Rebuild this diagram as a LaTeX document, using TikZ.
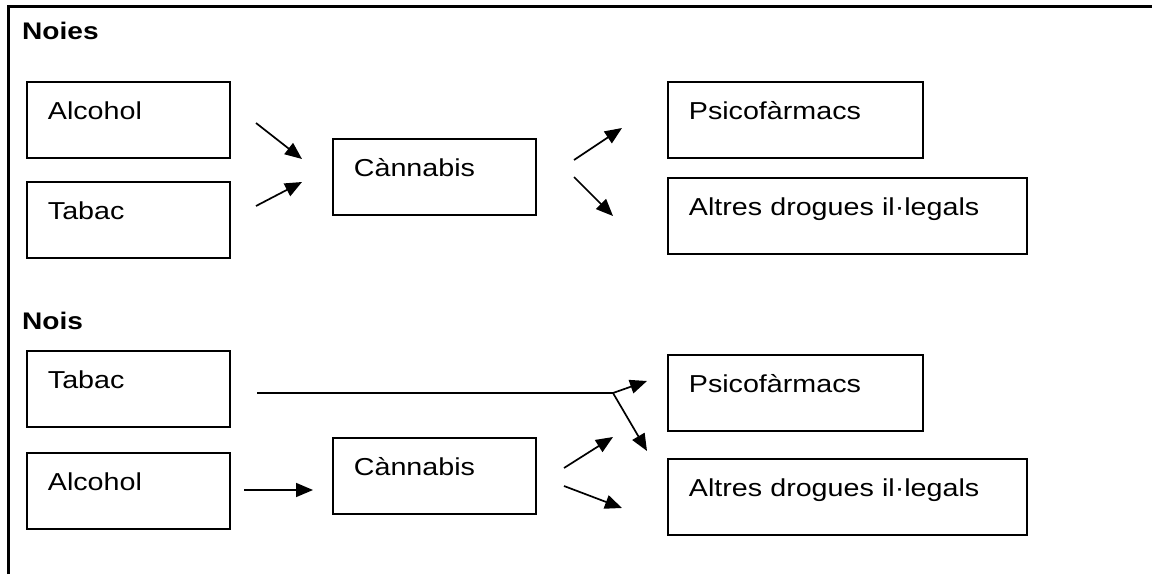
\documentclass[tikz,border=0pt]{standalone}
\usepackage{fontspec}
\setmainfont{Liberation Sans}[FakeStretch=1.17]
\usetikzlibrary{arrows.meta}

\tikzset{
	box/.style={draw, line width=1.8pt, anchor=north west, align=left,
		inner xsep=21pt, inner ysep=0pt, text height=38pt, text depth=38pt,
		font=\fontsize{24.5pt}{29pt}\selectfont},
	head/.style={anchor=base west, inner sep=0pt, font=\fontsize{24pt}{28pt}\selectfont\bfseries},
	arr/.style={-{Triangle[length=17pt,width=14pt]}, line width=1.7pt}
}

\begin{document}
\begin{tikzpicture}[x=1pt,y=-1pt]
			\useasboundingbox (0,0) rectangle (1152,575);
			\draw[line width=3pt] (8,574) -- (8,7) -- (1152,7);

			% Noies
			\node[head] (noies) at (22,40) {Noies};
			\node[box, text width=161pt] (alcF) at (26,81) {Alcohol};
			\node[box, text width=161pt] (tabF) at (26,181) {Tabac};
			\node[box, text width=161pt] (canF) at (332,138) {Cànnabis};
			\node[box, text width=213pt] (psiF) at (667,81) {Psicofàrmacs};
			\node[box, text width=317pt] (altF) at (667,177) {Altres drogues il·legals};

			\coordinate (f1) at (256,123);
			\coordinate (f2) at (302,159);
			\coordinate (f3) at (256,206);
			\coordinate (f4) at (302,182);
			\coordinate (f5) at (574,160);
			\coordinate (f6) at (622,128);
			\coordinate (f7) at (574,177);
			\coordinate (f8) at (613,216);
			\draw[arr] (f1) -- (f2);
			\draw[arr] (f3) -- (f4);
			\draw[arr] (f5) -- (f6);
			\draw[arr] (f7) -- (f8);

			% Nois
			\node[head] (nois) at (22,329) {Nois};
			\node[box, text width=161pt] (tabM) at (26,350) {Tabac};
			\node[box, text width=161pt] (alcM) at (26,452) {Alcohol};
			\node[box, text width=161pt] (canM) at (332,437) {Cànnabis};
			\node[box, text width=213pt] (psiM) at (667,354) {Psicofàrmacs};
			\node[box, text width=317pt] (altM) at (667,458) {Altres drogues il·legals};

			\coordinate (m1) at (257,393);
			\coordinate (jn) at (613,393);
			\coordinate (m2) at (647,381);
			\coordinate (m3) at (647,451);
			\coordinate (m4) at (244,490);
			\coordinate (m5) at (313,490);
			\coordinate (m6) at (564,468);
			\coordinate (m7) at (613,437);
			\coordinate (m8) at (564,486);
			\coordinate (m9) at (622,508);
			\draw[line width=1.7pt] (m1) -- (jn);
			\draw[arr] (jn) -- (m2);
			\draw[arr] (jn) -- (m3);
			\draw[arr] (m4) -- (m5);
			\draw[arr] (m6) -- (m7);
			\draw[arr] (m8) -- (m9);
		\end{tikzpicture}
\end{document}
